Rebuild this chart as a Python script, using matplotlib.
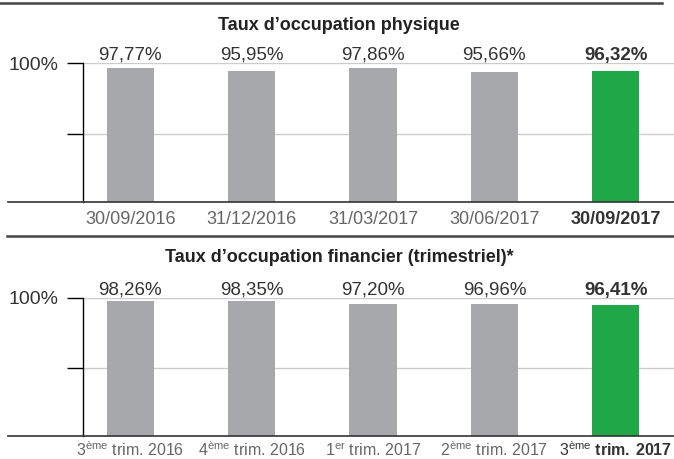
import matplotlib
matplotlib.use("Agg")
import matplotlib.pyplot as plt
from matplotlib.lines import Line2D

plt.rcParams['font.family'] = ['Liberation Sans', 'DejaVu Sans']
plt.rcParams['mathtext.fontset'] = 'custom'
plt.rcParams['mathtext.rm'] = 'Liberation Sans'
plt.rcParams['mathtext.bf'] = 'Liberation Sans:bold'

# data
dates = ['30/09/2016', '31/12/2016', '31/03/2017', '30/06/2017', '30/09/2017']
physique = [97.77, 95.95, 97.86, 95.66, 96.32]
physique_txt = ['97,77%', '95,95%', '97,86%', '95,66%', '96,32%']

trims = ['3$^{\\mathrm{ème}}$ trim. 2016', '4$^{\\mathrm{ème}}$ trim. 2016',
         '1$^{\\mathrm{er}}$ trim. 2017', '2$^{\\mathrm{ème}}$ trim. 2017',
         '3$^{\\mathrm{ème}}$ $\\mathbf{trim.\\,2017}$']
financier = [98.26, 98.35, 97.20, 96.96, 96.41]
financier_txt = ['98,26%', '98,35%', '97,20%', '96,96%', '96,41%']

grey = '#a7a8ab'
green = '#1fa748'
W, H = 674, 459

fig = plt.figure(figsize=(W / 100, H / 100), dpi=100)


def panel(top, bottom, title, title_y, vals, txts, labels, label_y, label_size,
          bold_last_label=True):
    ax = fig.add_axes([83 / W, 1 - bottom / H, 1 - 83 / W, (bottom - top) / H])
    x = range(len(vals))
    colors = [grey] * (len(vals) - 1) + [green]
    ax.bar(x, vals, width=0.39, color=colors, zorder=2)
    ax.set_xlim(-0.39, 4.48)
    ax.set_ylim(31, 100)
    ax.set_yticks([65, 100])
    ax.set_yticklabels(['', '100%'], fontsize=14, color='#333333')
    ax.tick_params(axis='y', length=11.5, width=1, pad=6, color='black')
    ax.grid(axis='y', color='#cccccc', lw=1, zorder=0)
    for s in ['top', 'right', 'bottom']:
        ax.spines[s].set_visible(False)
    ax.spines['left'].set_linewidth(1)
    ax.set_xticks([])
    for i, t in enumerate(txts):
        last = i == len(txts) - 1
        ax.annotate(t, (i, 100), xytext=(0, 2.5), textcoords='offset points',
                    ha='center', va='baseline', fontsize=13.5, color='#333333',
                    fontweight='bold' if last else 'normal')
    # category labels placed by baseline, in data x / figure y
    for i, lab in enumerate(labels):
        last = i == len(labels) - 1
        ax.annotate(lab, (i, 0), xycoords=('data', 'figure fraction'),
                    xytext=(0, (H - label_y) * 0.72), textcoords='offset points',
                    ha='center', va='baseline', fontsize=label_size,
                    color='#333333' if last else '#666666',
                    fontweight='bold' if (last and bold_last_label) else 'normal',
                    annotation_clip=False)
    fig.add_artist(Line2D([8 / W, 1], [1 - bottom / H] * 2, color='#333333', lw=1.2))
    fig.text(339 / W, 1 - title_y / H, title, ha='center', va='center',
             fontsize=13, fontweight='bold', color='#222222')
    return ax


ax1 = panel(63.3, 202, 'Taux d\u2019occupation physique', 25,
            physique, physique_txt, dates, 224, 13)
ax2 = panel(298, 435.5, 'Taux d\u2019occupation financier (trimestriel)*', 258,
            financier, financier_txt, trims, 456, 11.5, bold_last_label=False)

# horizontal rules between sections
fig.add_artist(Line2D([0, 662 / W], [1 - 3 / H] * 2, color='#444444', lw=1.8))
fig.add_artist(Line2D([7 / W, 1], [1 - 236 / H] * 2, color='#444444', lw=1.8))

fig.savefig('out.png', dpi=100)
